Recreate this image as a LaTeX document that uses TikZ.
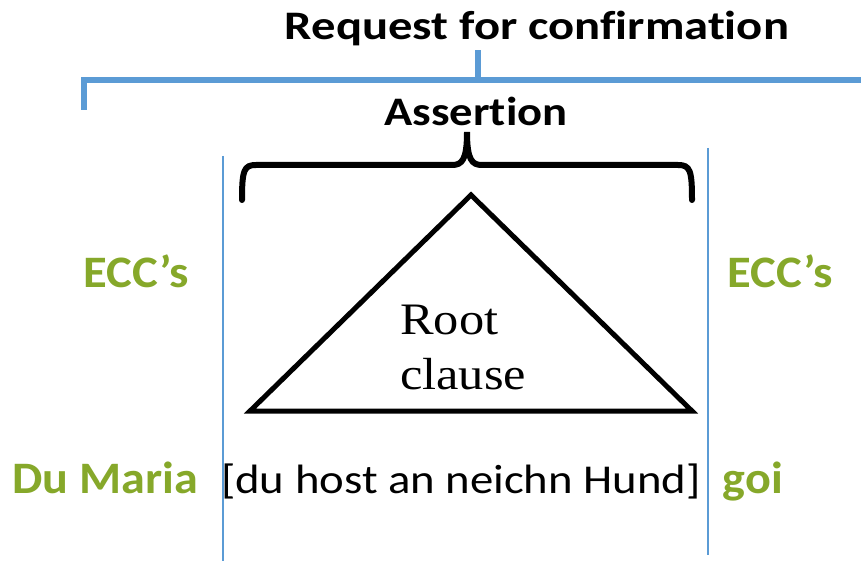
\documentclass[tikz,border=0pt]{standalone}
\usepackage{graphicx}
\usepackage{fontspec}
\setmainfont[Ligatures=NoCommon]{Carlito}
\newfontfamily\treefont{Liberation Serif}
\definecolor{pptblue}{RGB}{91,155,213}
\definecolor{eccgreen}{RGB}{134,168,42}
% the slide text is set a little wider than high
\newcommand{\wide}[2]{\scalebox{#1}[1]{#2}}
\begin{document}
\begin{tikzpicture}[x=1pt, y=-1pt,
    every node/.style={inner sep=0pt, anchor=base},
    head/.style={font=\fontsize{40.5}{44}\selectfont\bfseries},
    ecc/.style={font=\fontsize{45}{50}\selectfont\bfseries, text=eccgreen},
    gloss/.style={font=\fontsize{41}{46}\selectfont},
    bracket/.style={pptblue, line width=6pt},
    divider/.style={pptblue, line width=1.5pt},
    curly/.style={black, line width=6pt, line cap=round},
    tree/.style={black, line width=5pt, line join=miter}]
    \useasboundingbox (0,0) rectangle (861,561);
    % top level
    \node[head] (request) at (537,40) {\wide{1.2}{Request for confirmation}};
    \draw[bracket] (84,110) -- (84,80) -- (861,80);
    \draw[bracket] (478,80) -- (478,50);
    \node[head] (assertion) at (476,126) {\wide{1.15}{Assertion}};
    \draw[curly] (242,200) .. controls (242,170) and (244,165) .. (256,165)
        -- (452,165) .. controls (462,165) and (467,160) .. (467,132)
        .. controls (467,160) and (472,165) .. (482,165)
        -- (678,165) .. controls (690,165) and (692,170) .. (692,200);
    % boundaries of the root clause
    \draw[divider] (223,156) -- (223,561);
    \draw[divider] (708,148) -- (708,555);
    % tree
    \draw[tree] (471,195) -- (692,411) -- (250,411) -- cycle;
    \node[font=\treefont\fontsize{45}{55}\selectfont, anchor=north west] (root) at (400,296)
        {\wide{1.12}{\begin{tabular}{@{}l@{}}Root\\clause\end{tabular}}};
    % edge constituents
    \node[ecc] (eccL) at (136,287) {\wide{1.08}{ECC’s}};
    \node[ecc] (eccR) at (780,287) {\wide{1.08}{ECC’s}};
    \node[ecc] (duMaria) at (105,493) {\wide{1.07}{Du Maria}};
    \node[gloss] (clause) at (461,493) {\wide{1.14}{[du host an neichn Hund]}};
    \node[ecc] (goi) at (753,493) {\wide{1.07}{goi}};
\end{tikzpicture}
\end{document}
